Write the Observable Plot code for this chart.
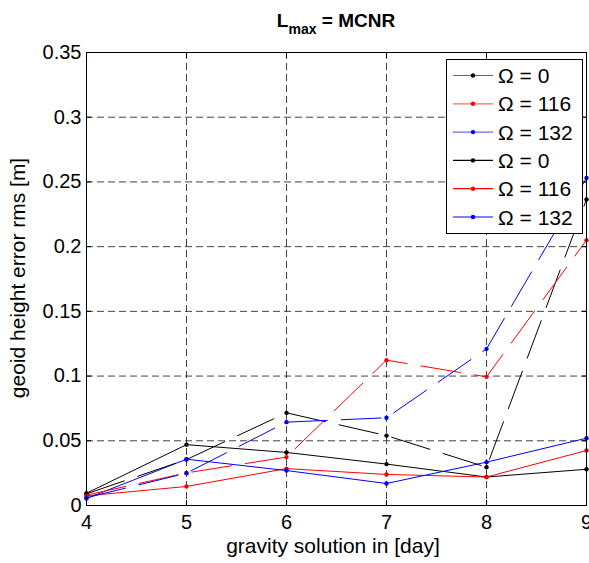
<!DOCTYPE html>
<html>
<head>
<meta charset="utf-8">
<script src="https://cdn.jsdelivr.net/npm/d3@7"></script>
<script src="https://cdn.jsdelivr.net/npm/@observablehq/plot@0.6"></script>
<style>
  html, body { margin: 0; padding: 0; background: #fff; }
  #chart { width: 589px; height: 563px; }
  svg { font-family: "Liberation Sans", Arial, sans-serif; }
</style>
</head>
<body>
<div id="chart"></div>
<script>
// ---- data ----
const days = [4, 5, 6, 7, 8, 9];
const seriesNames = ["Ω = 0", "Ω = 116", "Ω = 132", "Ω = 0", "Ω = 116", "Ω = 132"];
const seriesColors = ["#000000", "#ff0000", "#0000ff", "#000000", "#ff0000", "#0000ff"];
const seriesDashed = [true, true, true, false, false, false];
// dashed series
const omega0_a   = [0.0090, 0.0355, 0.0716, 0.0540, 0.0296, 0.2365];
const omega116_a = [0.0080, 0.0252, 0.0374, 0.1123, 0.0994, 0.2050];
const omega132_a = [0.0060, 0.0250, 0.0644, 0.0678, 0.1210, 0.2530];
// solid series
const omega0_b   = [0.0095, 0.0470, 0.0410, 0.0320, 0.0220, 0.0280];
const omega116_b = [0.0075, 0.0147, 0.0285, 0.0240, 0.0220, 0.0425];
const omega132_b = [0.0054, 0.0358, 0.0270, 0.0170, 0.0335, 0.0520];
const seriesValues = [omega0_a, omega116_a, omega132_a, omega0_b, omega116_b, omega132_b];

const xTicks = [4, 5, 6, 7, 8, 9];
const xTickLabels = ["4", "5", "6", "7", "8", "9"];
const yTicks = [0, 0.05, 0.1, 0.15, 0.2, 0.25, 0.3, 0.35];
const yTickLabels = ["0", "0.05", "0.1", "0.15", "0.2", "0.25", "0.3", "0.35"];
const titleMain = "L", titleSub = "max", titleRest = " = MCNR";
const xLabel = "gravity solution in [day]";
const yLabel = "geoid height error rms [m]";

// ---- table ----
const rows = [];
seriesValues.forEach((vals, s) => {
  vals.forEach((v, i) => rows.push({series: s, day: days[i], value: v, color: seriesColors[s], dashed: seriesDashed[s]}));
});
const dashedRows = rows.filter(d => d.dashed);
const solidRows = rows.filter(d => !d.dashed);

const W = 589, H = 563;
const fs = 20;
const blank = () => "";

const chart = Plot.plot({
  width: W,
  height: H,
  marginLeft: 86,
  marginRight: 3,
  marginTop: 52,
  marginBottom: 58,
  style: {fontFamily: '"Liberation Sans", Arial, sans-serif', fontSize: fs + "px", background: "#fff", color: "#000", overflow: "visible"},
  x: {domain: [4, 9], ticks: xTicks},
  y: {domain: [0, 0.35], ticks: yTicks},
  marks: [
    Plot.gridX({ticks: xTicks, stroke: "#222", strokeOpacity: 0.85, strokeDasharray: "7,4"}),
    Plot.gridY({ticks: yTicks, stroke: "#222", strokeOpacity: 0.85, strokeDasharray: "7,4"}),
    Plot.line(solidRows, {x: "day", y: "value", z: "series", stroke: "color", strokeWidth: 1}),
    Plot.line(dashedRows, {x: "day", y: "value", z: "series", stroke: "color", strokeWidth: 1, strokeDasharray: "40,14"}),
    Plot.dot(rows, {x: "day", y: "value", fill: "color", r: 2.2}),
    Plot.frame({stroke: "#000", strokeWidth: 1}),
    Plot.axisX({anchor: "bottom", ticks: xTicks, tickSize: -5, tickFormat: blank, label: null}),
    Plot.axisX({anchor: "top", ticks: xTicks, tickSize: -5, tickFormat: blank, label: null}),
    Plot.axisY({anchor: "left", ticks: yTicks, tickSize: -5, tickFormat: blank, label: null}),
    Plot.axisY({anchor: "right", ticks: yTicks, tickSize: -5, tickFormat: blank, label: null}),
    Plot.axisX({anchor: "bottom", ticks: xTicks, tickSize: 0, tickPadding: 9, fontSize: fs, label: null,
      tickFormat: d => xTickLabels[xTicks.indexOf(d)]}),
    Plot.axisY({anchor: "left", ticks: yTicks, tickSize: 0, tickPadding: 5, fontSize: fs, label: null,
      tickFormat: d => yTickLabels[yTicks.indexOf(d)]})
  ]
});

const svg = d3.select(chart);

// title
const t = svg.append("text")
  .attr("x", 336).attr("y", 27)
  .attr("text-anchor", "middle")
  .attr("font-weight", "bold")
  .attr("font-size", 19)
  .attr("fill", "#000");
t.append("tspan").text(titleMain);
t.append("tspan").attr("font-size", 14).attr("dy", 7).text(titleSub);
t.append("tspan").attr("dy", -7).text(titleRest);

// axis labels
svg.append("text")
  .attr("x", 333).attr("y", 553)
  .attr("text-anchor", "middle")
  .attr("font-size", 21)
  .attr("fill", "#000")
  .text(xLabel);
svg.append("text")
  .attr("transform", "translate(25,278) rotate(-90)")
  .attr("text-anchor", "middle")
  .attr("font-size", 21)
  .attr("fill", "#000")
  .text(yLabel);

// legend
const lg = svg.append("g").attr("class", "legend");
lg.append("rect")
  .attr("x", 446.5).attr("y", 59.5)
  .attr("width", 136).attr("height", 174)
  .attr("fill", "#fff").attr("stroke", "#000").attr("stroke-width", 1);
seriesNames.forEach((name, i) => {
  const cy = 75.5 + i * 28.3;
  const op = seriesDashed[i] ? 0.6 : 1;
  lg.append("line")
    .attr("x1", 453).attr("x2", 493).attr("y1", cy).attr("y2", cy)
    .attr("stroke", seriesColors[i]).attr("stroke-width", 1.2).attr("stroke-opacity", op);
  lg.append("circle")
    .attr("cx", 473).attr("cy", cy).attr("r", 2.2).attr("fill", seriesColors[i]);
  lg.append("text")
    .attr("x", 498).attr("y", cy + 7.5)
    .attr("text-anchor", "start")
    .attr("font-size", 21)
    .attr("fill", "#000")
    .text(name);
});

document.getElementById("chart").appendChild(chart);
</script>
</body>
</html>
